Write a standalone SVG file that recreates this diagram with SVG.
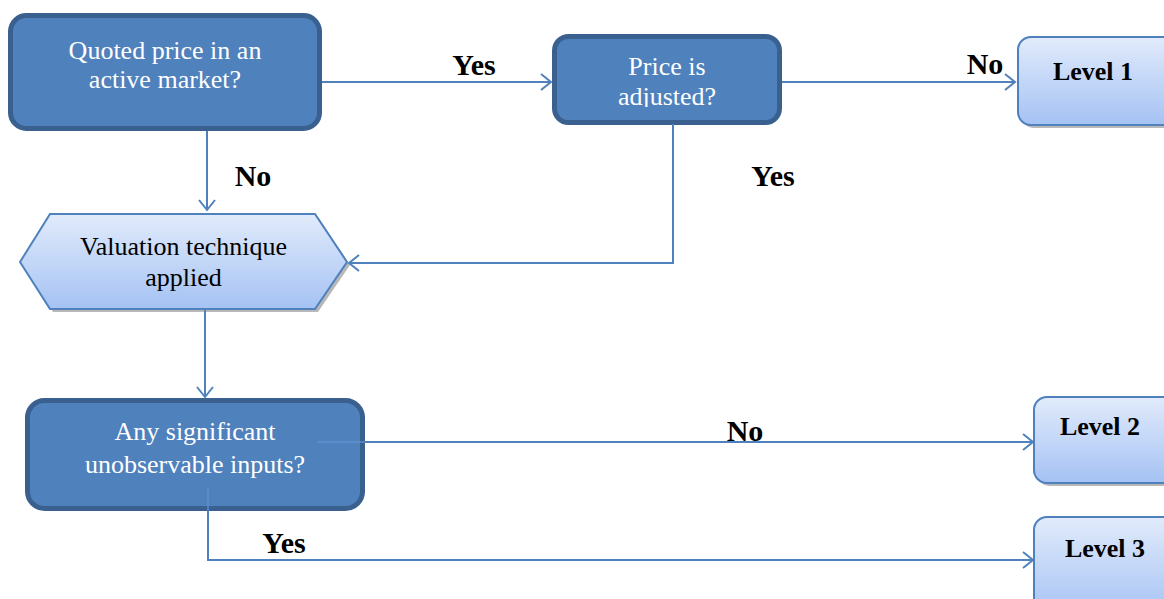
<svg xmlns="http://www.w3.org/2000/svg" width="1164" height="599" viewBox="0 0 1164 599">
<defs>
<linearGradient id="lg" x1="0" y1="0" x2="0" y2="1">
<stop offset="0" stop-color="#E1EBFB"/>
<stop offset="1" stop-color="#A5C2F4"/>
</linearGradient>
<marker id="arr" markerUnits="userSpaceOnUse" markerWidth="20" markerHeight="20" refX="12" refY="10" orient="auto" viewBox="0 0 20 20">
<path d="M2,2 L12,10 L2,18" fill="none" stroke="#4F81BD" stroke-width="2"/>
</marker>
<clipPath id="c2"><rect x="552" y="34" width="230" height="73"/></clipPath>
</defs>
<style>
.dark{fill:#4F81BD;stroke:#3A6090;stroke-width:5}
.light{fill:url(#lg);stroke:#4F81BD;stroke-width:2}
.shadow{fill:#9A9A9A;opacity:0.7}
.wt{font-family:"Liberation Serif","Times New Roman",serif;font-size:26px;fill:#FFFFFF;text-anchor:middle}
.bt{font-family:"Liberation Serif","Times New Roman",serif;font-size:26px;fill:#000000;text-anchor:middle}
.lv{font-family:"Liberation Serif","Times New Roman",serif;font-size:26px;font-weight:bold;fill:#000000;text-anchor:middle}
.lab{font-family:"Liberation Serif","Times New Roman",serif;font-size:30px;font-weight:bold;fill:#000000;text-anchor:middle}
.con{fill:none;stroke:#4F81BD;stroke-width:2}
.inner{fill:none;stroke:#5A8CCB;stroke-width:2}
</style>
<g id="quoted">
<rect class="dark" x="10.5" y="15.5" width="309" height="113" rx="16"/>
<text class="wt" x="165" y="59">Quoted price in an</text>
<text class="wt" x="165" y="88">active market?</text>
</g>
<g id="adjusted">
<rect class="dark" x="554.5" y="36.5" width="225" height="86" rx="14"/>
<g clip-path="url(#c2)">
<text class="wt" x="667" y="75">Price is</text>
<text class="wt" x="667" y="105">adjusted?</text>
</g>
</g>
<g id="level1">
<rect class="shadow" x="1021" y="40" width="160" height="88" rx="13"/>
<rect class="light" x="1018" y="37" width="160" height="88" rx="13"/>
<text class="lv" x="1093" y="80">Level 1</text>
</g>
<g id="valuation">
<polygon class="shadow" points="23,265 53,217 318,217 350,265 318,312 53,312"/>
<polygon class="light" points="20,262 50,214 315,214 347,262 315,309 50,309"/>
<text class="bt" x="183.5" y="255">Valuation technique</text>
<text class="bt" x="183.5" y="286">applied</text>
</g>
<g id="inputs">
<rect class="dark" x="27.5" y="400.5" width="335" height="108" rx="17"/>
<text class="wt" x="195" y="440">Any significant</text>
<text class="wt" x="195" y="473">unobservable inputs?</text>
</g>
<g id="level2">
<rect class="shadow" x="1037" y="400" width="150" height="86" rx="13"/>
<rect class="light" x="1034" y="397" width="150" height="86" rx="13"/>
<text class="lv" x="1100" y="435">Level 2</text>
</g>
<g id="level3">
<rect class="shadow" x="1037" y="520" width="150" height="100" rx="13"/>
<rect class="light" x="1034" y="517" width="150" height="100" rx="13"/>
<text class="lv" x="1105" y="557">Level 3</text>
</g>
<g id="connectors">
<path class="con" d="M322,82 L551,82" marker-end="url(#arr)"/>
<path class="con" d="M782,82 L1015,82" marker-end="url(#arr)"/>
<path class="con" d="M207,131 L207,210" marker-end="url(#arr)"/>
<path class="con" d="M673,124 L673,263 L349,263" marker-end="url(#arr)"/>
<path class="con" d="M205,309 L205,397" marker-end="url(#arr)"/>
<path class="inner" d="M317,442 L360,442"/>
<path class="con" d="M360,442 L1033,442" marker-end="url(#arr)"/>
<path class="inner" d="M208,487 L208,506"/>
<path class="con" d="M208,506 L208,560 L1033,560" marker-end="url(#arr)"/>
</g>
<g id="labels">
<text class="lab" x="474" y="75">Yes</text>
<text class="lab" x="985" y="74">No</text>
<text class="lab" x="253" y="186">No</text>
<text class="lab" x="773" y="186">Yes</text>
<text class="lab" x="745" y="441">No</text>
<text class="lab" x="284" y="553">Yes</text>
</g>
</svg>
